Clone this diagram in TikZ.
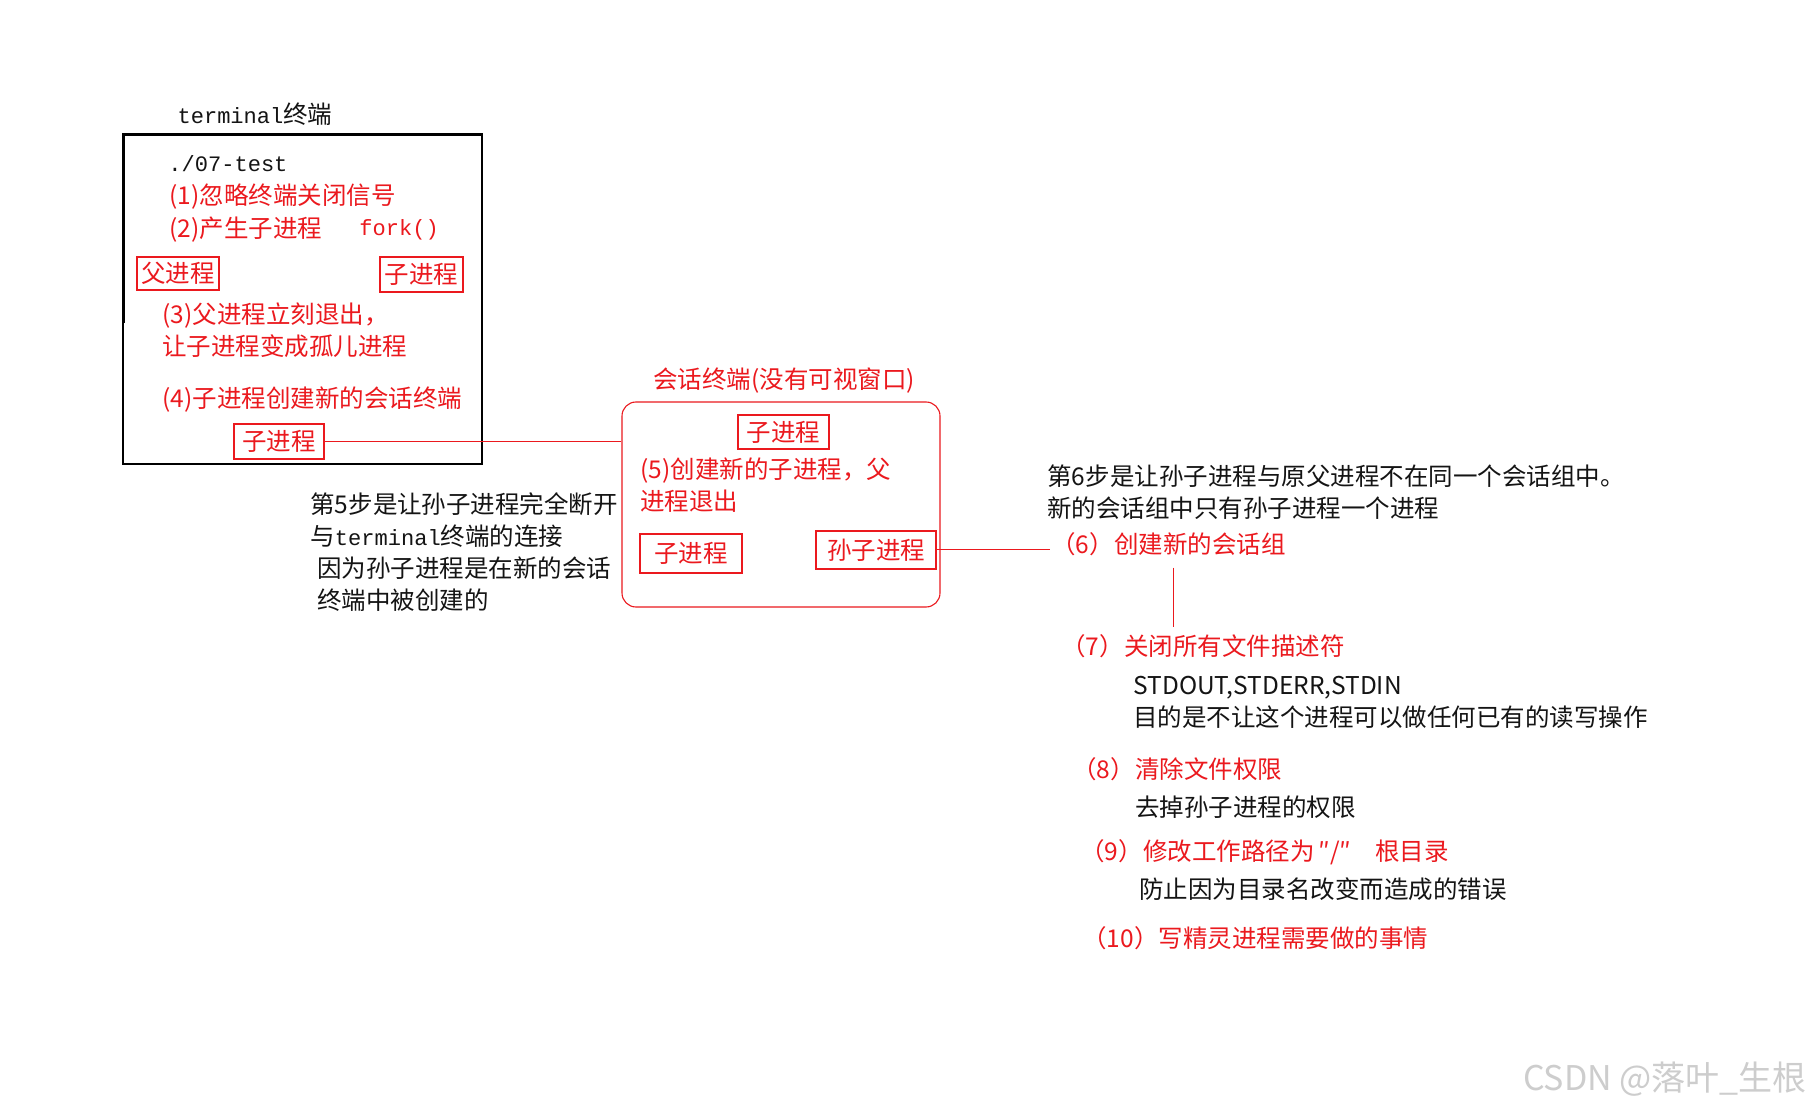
\documentclass[tikz,border=0pt]{standalone}
\usepackage{fontspec}
\setmainfont{Noto Sans CJK SC}
\newfontfamily\codefont[Scale=0.9]{Liberation Mono}
\usepackage{xcolor}
\usepackage{tikz}
\usetikzlibrary{positioning}
\definecolor{stepred}{RGB}{235, 25, 30}
\definecolor{inkblack}{RGB}{20, 20, 20}
\definecolor{markgray}{RGB}{205, 205, 205}
\newcommand{\labelfont}{\fontsize{12.25}{16}\selectfont}

\begin{document}
\begin{tikzpicture}[x=0.5pt, y=-0.5pt,
    txt/.style={inkblack, anchor=west, inner sep=0pt, align=left, yshift=-0.8pt, font=\labelfont},
    redtxt/.style={txt, stepred},
    procbox/.style={draw=stepred, stepred, line width=0.55pt, inner sep=0pt, minimum height=17pt, font=\labelfont},
    redline/.style={stepred, line width=0.5pt}]

    % Background
    \fill[white, use as bounding box] (0,0) rectangle (1816,1112);

    % Terminal window
    \node[txt, anchor=center] (termtitle) at (255,113) {{\codefont terminal}终端};
    \node[draw=black, line width=0.55pt, minimum width=179.5pt, minimum height=165pt] (term) at (302.5,299) {};
    \draw[line width=0.55pt] ([yshift=-1pt]term.north west) -- ([yshift=-1pt]term.north east);
    \draw[line width=0.55pt] ([xshift=0.8pt]term.north west) -- ([xshift=0.8pt]term.west |- 0,323);
    \node[txt] (cmd) at (168,162) {\codefont ./07-test};
    \node[redtxt, yshift=-0.8pt] (step1) at (169,193) {(1)忽略终端关闭信号};
    \node[redtxt] (step2) at (169,228) {(2)产生子进程};
    \node[redtxt] (fork) at (359,228) {\codefont fork()};
    \node[procbox, minimum width=41pt, minimum height=16.5pt] (parent) at (178,273.5) {父进程};
    \node[procbox, minimum width=41.5pt, minimum height=17.5pt] (child1) at (421.5,274.5) {子进程};
    \node[redtxt] (step3) at (162,328.5) {(3)父进程立刻退出，\\让子进程变成孤儿进程};
    \node[redtxt] (step4) at (162,398) {(4)子进程创建新的会话终端};
    \node[procbox, minimum width=45pt, minimum height=17.5pt] (child2) at (279,441.5) {子进程};

    % Session terminal
    \node[redtxt, anchor=center] (sesstitle) at (784,379) {会话终端(没有可视窗口)};
    \node[draw=stepred, line width=0.55pt, rounded corners=7pt, minimum width=159pt, minimum height=102.5pt] (sess) at (781,504.5) {};
    \node[procbox, minimum width=45.5pt, minimum height=17pt] (child3) at (783.5,432) {子进程};
    \node[redtxt] (step5) at (640,484) {(5)创建新的子进程，父\\进程退出};
    \node[procbox, minimum width=51pt, minimum height=19.5pt] (child4) at (691,553.5) {子进程};
    \node[procbox, minimum width=60pt, minimum height=19pt] (grand) at (876,550) {孙子进程};

    \draw[redline] (child2.east) -- (child2.east -| sess.west);

    % Notes
    \node[txt] (note5) at (310,550.5) {第5步是让孙子进程完全断开\\与{\codefont terminal}终端的连接\\\hspace*{3.5pt}因为孙子进程是在新的会话\\\hspace*{3.5pt}终端中被创建的};
    \node[txt] (note6) at (1047,491) {第6步是让孙子进程与原父进程不在同一个会话组中。\\新的会话组中只有孙子进程一个进程};

    % Daemon steps
    \node[redtxt] (step6) at (1051,543) {（6）创建新的会话组};
    \node[redtxt] (step7) at (1061,645) {（7）关闭所有文件描述符};
    \node[txt] (stdio) at (1133,700.5) {STDOUT,STDERR,STDIN\\目的是不让这个进程可以做任何已有的读写操作};
    \node[redtxt] (step8) at (1072,768) {（8）清除文件权限};
    \node[txt] (perm) at (1135,806) {去掉孙子进程的权限};
    \node[redtxt] (step9) at (1080,851) {（9）修改工作路径为\hspace{2pt}″/″\hspace{12pt}根目录};
    \node[txt] (rootdir) at (1139,888) {防止因为目录名改变而造成的错误};
    \node[redtxt] (step10) at (1082,937) {（10）写精灵进程需要做的事情};

    \draw[redline] (grand.east) -- ([xshift=-0.5pt]grand.east -| step6.west);
    \draw[redline, shorten <=5.5pt, shorten >=4pt] ([xshift=2.5pt]step6.south) -- ([xshift=2.5pt]step6.south |- step7.north);

    % Watermark
    \node[markgray, font=\fontsize{17}{20}\selectfont] (mark) at (1665,1079) {CSDN @落叶\_生根};

\end{tikzpicture}
\end{document}
